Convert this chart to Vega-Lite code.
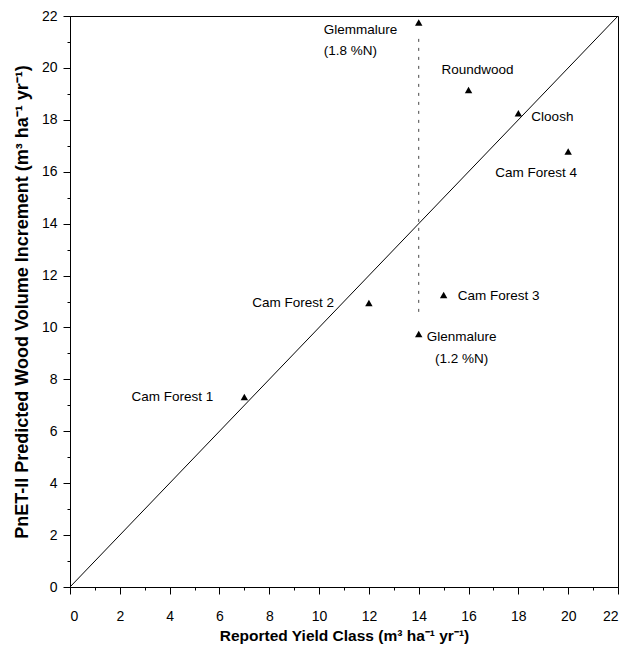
{
  "$schema": "https://vega.github.io/schema/vega-lite/v6.json",
  "width": 548,
  "height": 571,
  "autosize": "none",
  "padding": {"left": 70, "top": 16, "right": 8, "bottom": 61},
  "config": {
    "font": "Liberation Sans",
    "view": {"stroke": "black", "strokeWidth": 1},
    "axis": {
      "domainColor": "black",
      "tickColor": "black",
      "labelColor": "black",
      "titleColor": "black",
      "labelFont": "Liberation Sans",
      "titleFont": "Liberation Sans",
      "labelFontSize": 14,
      "titleFontSize": 16,
      "titleFontWeight": "bold",
      "grid": false,
      "labelOverlap": false
    }
  },
  "datasets": {
    "sites": [
      {"site": "Cam Forest 1", "label": "Cam Forest 1", "yield": 7, "pnet": 7.32},
      {"site": "Cam Forest 2", "label": "Cam Forest 2", "yield": 12, "pnet": 10.94},
      {"site": "Cam Forest 3", "label": "Cam Forest 3", "yield": 15, "pnet": 11.25},
      {"site": "Cam Forest 4", "label": "Cam Forest 4", "yield": 20, "pnet": 16.78},
      {"site": "Glenmalure 1.2", "label": "Glenmalure\n(1.2 %N)", "yield": 14, "pnet": 9.75},
      {"site": "Glenmalure 1.8", "label": "Glemmalure\n(1.8 %N)", "yield": 14, "pnet": 21.75},
      {"site": "Roundwood", "label": "Roundwood", "yield": 16, "pnet": 19.15},
      {"site": "Cloosh", "label": "Cloosh", "yield": 18, "pnet": 18.25}
    ],
    "oneToOne": [{"yield": 0, "pnet": 0}, {"yield": 22, "pnet": 22}],
    "glenRange": [{"yield": 14, "pnet": 10.6, "pnet2": 21.2}]
  },
  "encoding": {
    "x": {
      "field": "yield",
      "type": "quantitative",
      "scale": {"domain": [0, 22], "nice": false, "zero": false},
      "axis": {
        "title": "Reported Yield Class (m³ ha⁻¹ yr⁻¹)",
        "titleFontSize": 15.5,
        "values": [0,1,2,3,4,5,6,7,8,9,10,11,12,13,14,15,16,17,18,19,20,21,22],
        "labelExpr": "datum.value % 2 === 0 ? datum.label : ''",
        "tickSize": {"condition": {"test": "datum.value % 2 === 1", "value": 3}, "value": 7},
        "labelPadding": 15,
        "titlePadding": 5
      }
    },
    "y": {
      "field": "pnet",
      "type": "quantitative",
      "scale": {"domain": [0, 22], "nice": false, "zero": false},
      "axis": {
        "title": "PnET-II Predicted Wood Volume Increment (m³ ha⁻¹ yr⁻¹)",
        "titleFontSize": 18,
        "values": [0,1,2,3,4,5,6,7,8,9,10,11,12,13,14,15,16,17,18,19,20,21,22],
        "labelExpr": "datum.value % 2 === 0 ? datum.label : ''",
        "tickSize": {"condition": {"test": "datum.value % 2 === 1", "value": 3}, "value": 7},
        "labelPadding": 6,
        "titlePadding": 10
      }
    }
  },
  "layer": [
    {
      "data": {"name": "oneToOne"},
      "mark": {"type": "line", "color": "black", "strokeWidth": 1}
    },
    {
      "data": {"name": "glenRange"},
      "mark": {"type": "rule", "color": "#444", "strokeWidth": 1, "strokeDash": [3, 6]},
      "encoding": {"y2": {"field": "pnet2"}}
    },
    {
      "data": {"name": "sites"},
      "mark": {"type": "point", "shape": "triangle-up", "filled": true, "color": "black", "opacity": 1, "size": 55}
    },
    {
      "data": {"name": "sites"},
      "transform": [{"filter": {"field": "site", "oneOf": ["Cam Forest 1"]}}],
      "mark": {"type": "text", "align": "right", "baseline": "middle", "dx": -31, "fontSize": 13.5, "color": "black"},
      "encoding": {"text": {"field": "label"}}
    },
    {
      "data": {"name": "sites"},
      "transform": [{"filter": {"field": "site", "oneOf": ["Cam Forest 2"]}}],
      "mark": {"type": "text", "align": "right", "baseline": "middle", "dx": -35, "fontSize": 13.5, "color": "black"},
      "encoding": {"text": {"field": "label"}}
    },
    {
      "data": {"name": "sites"},
      "transform": [{"filter": {"field": "site", "oneOf": ["Cam Forest 3"]}}],
      "mark": {"type": "text", "align": "left", "baseline": "middle", "dx": 14, "dy": 1, "fontSize": 13.5, "color": "black"},
      "encoding": {"text": {"field": "label"}}
    },
    {
      "data": {"name": "sites"},
      "transform": [{"filter": {"field": "site", "oneOf": ["Cloosh"]}}],
      "mark": {"type": "text", "align": "left", "baseline": "middle", "dx": 13, "dy": 4, "fontSize": 13.5, "color": "black"},
      "encoding": {"text": {"field": "label"}}
    },
    {
      "data": {"name": "sites"},
      "transform": [{"filter": {"field": "site", "oneOf": ["Cam Forest 4"]}}],
      "mark": {"type": "text", "align": "center", "baseline": "middle", "dx": -32, "dy": 22, "fontSize": 13.5, "color": "black"},
      "encoding": {"text": {"field": "label"}}
    },
    {
      "data": {"name": "sites"},
      "transform": [{"filter": {"field": "site", "oneOf": ["Roundwood"]}}],
      "mark": {"type": "text", "align": "center", "baseline": "middle", "dx": 9, "dy": -20, "fontSize": 13.5, "color": "black"},
      "encoding": {"text": {"field": "label"}}
    },
    {
      "data": {"name": "sites"},
      "transform": [{"filter": {"field": "site", "oneOf": ["Glenmalure 1.2"]}}],
      "mark": {"type": "text", "align": "center", "baseline": "top", "dx": 43, "dy": -4, "fontSize": 13.5, "lineHeight": 22, "lineBreak": "\n", "color": "black"},
      "encoding": {"text": {"field": "label"}}
    },
    {
      "data": {"name": "sites"},
      "transform": [{"filter": {"field": "site", "oneOf": ["Glenmalure 1.8"]}}],
      "mark": {"type": "text", "align": "left", "baseline": "top", "dx": -95, "dy": 1, "fontSize": 13.5, "lineHeight": 21, "lineBreak": "\n", "color": "black"},
      "encoding": {"text": {"field": "label"}}
    }
  ]
}
